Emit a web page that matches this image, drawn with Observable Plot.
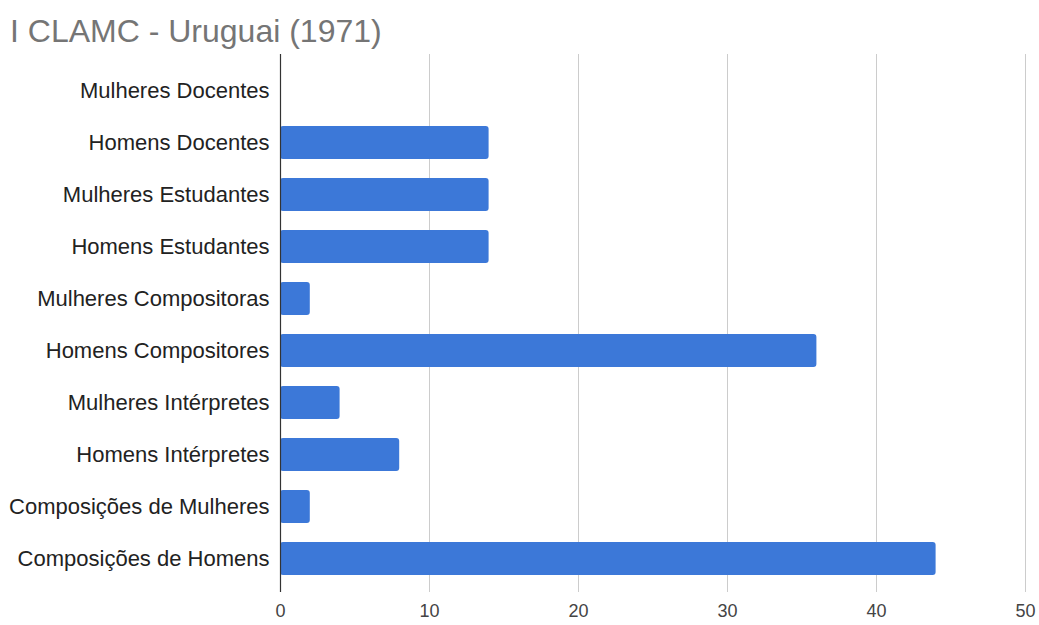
<!DOCTYPE html>
<html><head><meta charset="utf-8">
<script src="https://cdn.jsdelivr.net/npm/d3@7"></script>
<script src="https://cdn.jsdelivr.net/npm/@observablehq/plot@0.6"></script>
<style>
body{margin:0;background:#fff;font-family:"Liberation Sans",Arial,sans-serif;}
#title{height:35px;padding-top:15px;line-height:1;padding-left:10px;font-size:32px;color:#757575;white-space:nowrap;}
</style></head>
<body>
<div id="title">I CLAMC - Uruguai (1971)</div>
<div id="chart"></div>
<script>
const categories = ["Mulheres Docentes","Homens Docentes","Mulheres Estudantes","Homens Estudantes","Mulheres Compositoras","Homens Compositores","Mulheres Intérpretes","Homens Intérpretes","Composições de Mulheres","Composições de Homens"];
const values = [0,14,14,14,2,36,4,8,2,44];
const xTicks = [0,10,20,30,40,50];
const data = categories.map((c,i)=>({category:c,value:values[i]}));

const chart = Plot.plot({
  width:1039, height:575,
  marginLeft:280, marginRight:14, marginTop:4, marginBottom:33,
  style:{fontFamily:"'Liberation Sans', Arial, sans-serif", fontSize:"18px", color:"#222", background:"#fff"},
  x:{domain:[0,50], ticks:xTicks, label:null, grid:false},
  y:{domain:categories, paddingInner:0.365, paddingOuter:0.1825, insetTop:11, insetBottom:7, label:null},
  marks:[
    Plot.gridX(xTicks.filter(d=>d>0), {stroke:"#cccccc", strokeOpacity:1, strokeWidth:1}),
    Plot.barX(data, {x:"value", y:"category", fill:"#3c78d8", rx:3}),
    Plot.ruleX([0], {stroke:"#333", strokeWidth:1.2}),
    Plot.axisX(xTicks, {tickSize:0, tickPadding:12, fill:"#444", fontSize:18}),
    Plot.axisY({tickSize:0, tickPadding:11, fill:"#222", fontSize:22})
  ]
});
document.getElementById("chart").appendChild(chart);
</script>
</body></html>
